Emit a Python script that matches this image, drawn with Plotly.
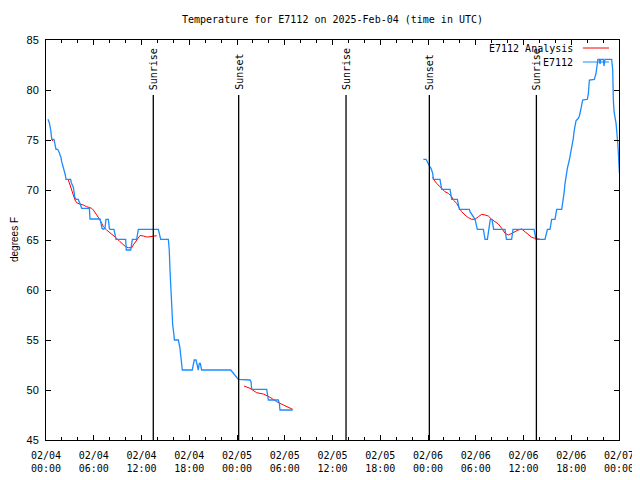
import plotly.graph_objects as go
import pandas as pd

BASE = pd.Timestamp("2025-02-04 00:00")

# Observed temperature (hours since 2025-02-04 00:00 UTC, degrees F); None = data gap
obs_hours = [0.25, 0.42, 0.59, 0.71, 0.73, 1.0, 1.13, 1.26, 1.47, 1.55, 1.68, 1.76, 1.88, 1.97,
             2.18, 2.30, 2.43, 2.51, 3.10, 3.18, 3.31, 3.43, 3.52, 3.60, 3.77, 4.06, 4.15, 4.27,
             4.48, 5.45, 5.53, 6.79, 6.91, 7.04, 7.20, 7.41, 7.54, 7.83, 7.96, 8.04, 8.54, 8.67,
             8.80, 10.01, 10.09, 10.64, 10.77, 10.85, 11.39, 11.52, 11.60, 14.12, 14.20, 14.41,
             15.37, 15.49, 15.58, 15.67, 15.79, 15.92, 16.08, 16.13, 16.63, 16.75, 16.84, 16.92,
             17.05, 17.13, 18.38, 18.51, 18.63, 18.85, 19.01, 19.14, 19.26, 19.39, 19.56, 23.21,
             24.17, 25.63, 25.76, 25.85, 27.73, 27.81, 27.94, 29.19, 29.32, 29.40, 31.0,
             None,
             47.42, 47.75, 47.92, 48.04, 48.17, 48.38, 48.59, 48.67, 49.51, 49.59, 49.72, 50.77,
             50.89, 50.98, 51.69, 51.81, 51.94, 53.20, 53.28, 53.91, 54.03, 54.20, 54.96, 55.17,
             55.46, 55.62, 55.83, 56.04, 56.25, 57.68, 57.85, 58.51, 58.68, 61.32, 61.45, 61.57,
             62.70, 62.83, 63.0, 63.33, 63.54, 63.96, 64.17, 64.80, 64.92, 65.09, 65.22, 65.34,
             65.51, 65.76, 65.93, 66.05, 66.26, 66.35, 66.47, 66.60, 66.89, 67.02, 67.19, 67.31,
             67.43, 68.02, 68.15, 68.28, 68.90, 69.11, 69.20, 69.35, 69.53, 69.62, 69.70, 70.03,
             70.12, 70.24, 71.08, 71.21, 71.29, 71.38, 71.63, 71.79, 71.88, 72.05]
obs_temp = [77.07, 76.73, 76.0, 75.33, 75.07, 75.07, 74.67, 74.07, 74.07, 73.83, 73.73, 73.5, 73.27,
            72.83, 72.33, 71.83, 71.5, 71.07, 71.07, 70.73, 70.5, 70.27, 69.83, 69.33, 69.07, 69.07,
            68.83, 68.67, 68.17, 68.17, 67.1, 67.1, 66.67, 66.17, 66.07, 66.17, 67.07, 67.07, 66.17,
            66.07, 66.07, 65.5, 65.07, 65.07, 64.0, 64.0, 64.67, 65.07, 65.07, 65.67, 66.07, 66.07,
            65.73, 65.07, 65.07, 64.0, 62.0, 60.0, 58.0, 56.5, 55.5, 55.0, 55.0, 54.67, 54.17, 53.5,
            52.5, 52.0, 52.0, 52.5, 53.0, 53.0, 52.33, 52.0, 52.67, 52.67, 52.0, 52.0,
            51.07, 51.0, 50.83, 50.07, 50.07, 49.67, 49.0, 49.0, 48.67, 48.0, 48.0,
            None,
            73.07, 73.07, 72.83, 72.6, 72.4, 72.17, 71.67, 71.07, 71.07, 70.67, 70.07, 70.07, 69.67,
            69.07, 69.07, 68.67, 68.07, 68.07, 67.83, 67.07, 66.67, 66.07, 66.07, 65.07, 65.07,
            66.07, 67.07, 67.07, 66.07, 66.07, 65.07, 65.07, 66.07, 66.07, 65.5, 65.07, 65.07, 65.5,
            66.07, 66.07, 67.07, 67.07, 68.07, 68.07, 68.67, 69.67, 70.67, 71.5, 72.17, 73.0, 73.67,
            74.33, 75.17, 75.83, 76.4, 76.93, 77.17, 77.4, 78.0, 78.5, 79.0, 79.07, 79.67, 81.0,
            81.07, 81.67, 82.33, 83.07, 83.07, 82.6, 83.07, 83.07, 82.4, 83.07, 83.07, 82.0, 79.0,
            77.83, 76.67, 75.5, 74.33, 71.67]

# Analysis series
ana_hours = [0.72, 0.85, None,
             2.81, 3.02, 3.22, 3.43, 3.64, 3.85, 4.19, 4.69, 5.11, 5.74, 5.95, 6.37, 6.58, 6.79,
             7.0, 7.20, 7.62, 8.04, 8.46, 8.88, 9.30, 9.72, 10.01, 10.35, 10.77, 10.97, 11.39,
             11.81, 12.23, 12.65, 13.07, 13.49, 13.91, None,
             24.88, 25.63, 26.47, 27.31, 28.15, 28.99, 29.82, 31.0, None,
             48.6, 48.75, 49.08, 49.51, 49.72, 50.13, 50.55, 50.98, 51.18, 51.60, 51.94, 52.23,
             52.65, 53.07, 53.49, 53.91, 54.33, 54.75, 55.17, 55.58, 56.0, 56.42, 56.84, 57.26,
             57.68, 58.10, 58.51, 58.93, 59.35, 59.77, 60.19, 60.61, 61.03, 61.45, 61.87, 62.08]
ana_temp = [75.07, 74.9, None,
            71.0, 70.5, 70.0, 69.33, 69.0, 68.73, 68.6, 68.5, 68.33, 68.17, 68.0, 67.5, 67.27, 67.0,
            66.67, 66.33, 66.0, 65.73, 65.5, 65.17, 64.83, 64.57, 64.33, 64.23, 64.23, 64.5, 65.0,
            65.45, 65.4, 65.3, 65.33, 65.4, 65.43, None,
            50.4, 50.17, 49.73, 49.6, 49.27, 48.83, 48.5, 48.07, None,
            71.3, 71.0, 70.67, 70.33, 70.07, 69.83, 69.67, 69.33, 69.0, 68.67, 68.17, 67.83, 67.5,
            67.23, 67.07, 67.07, 67.33, 67.57, 67.5, 67.4, 67.07, 66.83, 66.6, 66.17, 65.67, 65.5,
            65.67, 65.83, 66.0, 66.1, 65.83, 65.5, 65.27, 65.17, 65.1, 65.07]

# Sun events (hours since 2025-02-04 00:00 UTC)
sun_hours = [13.48, 24.21, 37.70, 48.17, 61.62]
sun_labels = ["Sunrise", "Sunset", "Sunrise", "Sunset", "Sunrise"]

title_text = "Temperature for E7112 on 2025-Feb-04 (time in UTC)"
series_names = ["E7112 Analysis", "E7112"]
BLUE = "#1a8cff"
RED = "#ff0000"
MONO = "DejaVu Sans Mono"
FIG_W, FIG_H = 632, 472   # page body has an 8px margin
PLOT_W = 573


def to_time(hours):
    return [None if h is None else BASE + pd.Timedelta(hours=h) for h in hours]


fig = go.Figure()
fig.add_trace(go.Scatter(x=to_time(ana_hours), y=ana_temp, mode="lines",
                         line=dict(color=RED, width=1), name=series_names[0],
                         connectgaps=False, showlegend=False))
fig.add_trace(go.Scatter(x=to_time(obs_hours), y=obs_temp, mode="lines",
                         line=dict(color=BLUE, width=1.3), name=series_names[1],
                         connectgaps=False, showlegend=False))

shapes = []
annotations = []
for h, lab in zip(sun_hours, sun_labels):
    t = BASE + pd.Timedelta(hours=h)
    shapes.append(dict(type="line", xref="x", yref="y", x0=t, x1=t, y0=45, y1=79.5,
                       line=dict(color="black", width=1.3)))
    annotations.append(dict(x=t, y=79.8, xref="x", yref="y", text=lab, showarrow=False,
                            textangle=-90, xanchor="center", yanchor="bottom",
                            font=dict(family=MONO, size=10, color="black")))

# manual gnuplot-style legend (top right)
legend_y = [0.98, 0.945]
legend_colors = [RED, BLUE]
for name, ly, col in zip(series_names, legend_y, legend_colors):
    annotations.append(dict(x=0.923, y=ly, xref="paper", yref="paper", text=name,
                            showarrow=False, xanchor="right", yanchor="middle",
                            font=dict(family=MONO, size=10, color="black")))
    shapes.append(dict(type="line", xref="paper", yref="paper", x0=0.937, x1=0.9825,
                       y0=ly, y1=ly, line=dict(color=col, width=1)))

# y-axis title placed as a rotated annotation
annotations.append(dict(x=-32 / PLOT_W, y=0.5, xref="paper", yref="paper", text="degrees F",
                        showarrow=False, textangle=-90, xanchor="center", yanchor="middle",
                        font=dict(family="Liberation Sans", size=10, color="black")))

fig.update_layout(
    width=FIG_W, height=FIG_H,
    margin=dict(l=38, r=21, t=32, b=40, autoexpand=False),
    paper_bgcolor="white", plot_bgcolor="white",
    title=dict(text=title_text, x=0.5, xref="paper", y=1 - 11 / FIG_H, yref="container",
               xanchor="center", yanchor="middle",
               font=dict(family=MONO, size=10, color="black")),
    shapes=shapes, annotations=annotations,
    showlegend=False,
)
fig.update_xaxes(
    type="date", automargin=False,
    range=[BASE, BASE + pd.Timedelta(hours=72)],
    dtick=6 * 3600 * 1000, tick0=BASE,
    tickformat="%m/%d<br>%H:%M",
    ticks="inside", ticklen=5, tickcolor="black", tickwidth=1,
    ticklabelstandoff=6,
    minor=dict(dtick=2 * 3600 * 1000, tick0=BASE, ticks="inside", ticklen=3,
               tickcolor="black", tickwidth=1, showgrid=False),
    showline=True, linecolor="black", linewidth=1, mirror="allticks",
    showgrid=False, zeroline=False,
    tickfont=dict(family=MONO, size=10, color="black"),
)
fig.update_yaxes(
    automargin=False,
    range=[45, 85], dtick=5, tick0=45,
    ticks="inside", ticklen=5, tickcolor="black", tickwidth=1,
    ticklabelstandoff=4,
    showline=True, linecolor="black", linewidth=1, mirror="allticks",
    showgrid=False, zeroline=False,
    tickfont=dict(family="Liberation Sans", size=11, color="black"),
)

fig.write_html("out.html")
